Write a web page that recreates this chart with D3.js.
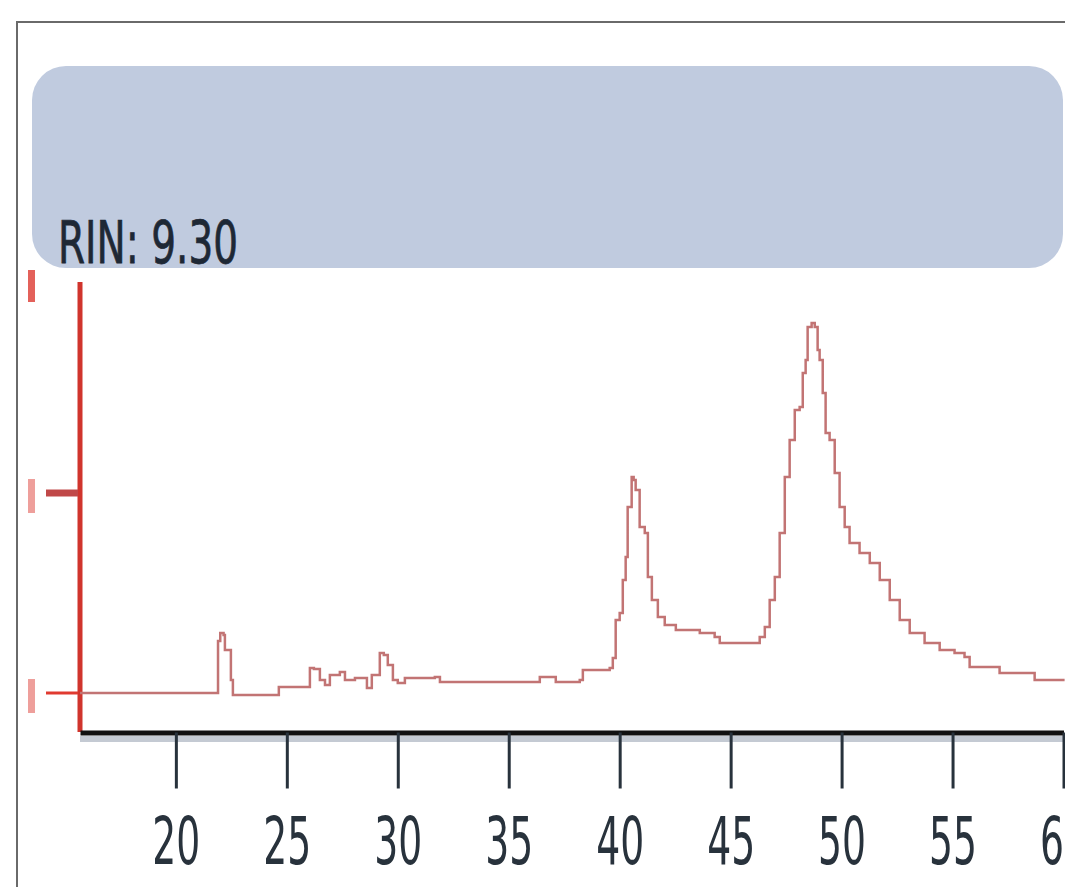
<!DOCTYPE html>
<html>
<head>
<meta charset="utf-8">
<script src="https://cdn.jsdelivr.net/npm/d3@7"></script>
<style>
  body { margin: 0; background: #fff; }
  svg { display: block; }
  .x-axis text { font-family: 'DejaVu Sans', sans-serif; fill: #28323c; }
</style>
</head>
<body>
<svg id="chart"></svg>
<script>
// electropherogram trace: migration time (s) and fluorescence (FU)
const times = [15.68, 21.81, 21.9, 22.0, 22.15, 22.21, 22.48, 22.57, 24.6, 24.64, 25.9, 26.04, 26.22, 26.49, 26.72,
  26.94, 27.39, 27.62, 28.07, 28.61, 28.83, 29.19, 29.37, 29.55, 29.78, 30.0, 30.32, 31.67, 31.9, 36.18,
  36.4, 36.94, 37.12, 38.2, 38.34, 39.55, 39.69, 39.82, 40.0, 40.14, 40.27, 40.36, 40.54, 40.63, 40.72,
  40.9, 41.13, 41.27, 41.45, 41.72, 42.03, 42.53, 43.61, 44.28, 44.51, 45.86, 46.31, 46.54, 46.76, 46.99,
  47.21, 47.44, 47.66, 47.89, 48.11, 48.25, 48.38, 48.47, 48.65, 48.79, 48.92, 49.01, 49.15, 49.28, 49.46,
  49.69, 49.91, 50.14, 50.36, 50.81, 51.27, 51.72, 52.17, 52.62, 53.07, 53.74, 54.42, 55.09, 55.54, 55.77,
  56.9, 57.12, 58.47, 58.7, 60.05];
const fluorescence = [0, 0, 2.6, 3.0, 2.9, 2.15, 0.65, -0.1, -0.1, 0.3, 0.3, 1.25, 1.2, 0.65, 0.4,
  0.9, 1.05, 0.65, 0.75, 0.25, 0.9, 2.0, 1.9, 1.4, 0.65, 0.5, 0.75, 0.8, 0.55, 0.55,
  0.8, 0.8, 0.55, 0.65, 1.15, 1.25, 1.75, 3.65, 4.0, 5.65, 6.8, 9.3, 10.8, 10.65, 10.15,
  8.3, 8.0, 5.8, 4.65, 3.8, 3.4, 3.15, 3.0, 2.8, 2.5, 2.5, 2.8, 3.3, 4.65, 5.8,
  8.0, 10.8, 12.65, 14.15, 14.3, 16.0, 16.65, 18.3, 18.5, 18.3, 17.15, 16.65, 15.0, 13.0, 12.65,
  11.0, 9.3, 8.3, 7.5, 7.0, 6.5, 5.65, 4.65, 3.65, 3.0, 2.5, 2.15, 2.0, 1.8, 1.3,
  1.3, 1.0, 1.0, 0.65, 0.65];
const xTicks = [20, 25, 30, 35, 40, 45, 50, 55, 60];
const yTicks = [0, 10, 20];
const rinLabel = 'RIN: 9.30';

const width = 1065, height = 887;
const svg = d3.select('#chart')
    .attr('width', width)
    .attr('height', height);

// outer frame (right/bottom run off the picture)
svg.append('rect')
    .attr('x', 17).attr('y', 22)
    .attr('width', 1100).attr('height', 900)
    .attr('fill', '#fff')
    .attr('stroke', '#6a6a6a')
    .attr('stroke-width', 2);

// header panel with RIN value
svg.append('rect')
    .attr('x', 32).attr('y', 66)
    .attr('width', 1031).attr('height', 202)
    .attr('rx', 34).attr('ry', 34)
    .attr('fill', '#c0cbdf');

svg.append('text')
    .attr('x', 58).attr('y', 263)
    .attr('font-family', 'DejaVu Sans, sans-serif')
    .attr('font-size', 58)
    .attr('textLength', 180)
    .attr('lengthAdjust', 'spacingAndGlyphs')
    .attr('fill', '#1e2835')
    .attr('stroke', '#1e2835')
    .attr('stroke-width', 0.8)
    .text(rinLabel);

const xScale = d3.scaleLinear().domain([15.68, 60]).range([80, 1063.5]);
const yScale = d3.scaleLinear().domain([0, 20]).range([693, 293]);

const data = times.map((t, i) => ({t, v: fluorescence[i]}));

// y axis (red)
svg.append('line')
    .attr('x1', 80).attr('x2', 80)
    .attr('y1', 282).attr('y2', 732)
    .attr('stroke', '#d0342c')
    .attr('stroke-width', 5);

svg.selectAll('.y-tick')
    .data(yTicks.filter(d => d < 20))
    .join('line')
    .attr('class', 'y-tick')
    .attr('x1', 46).attr('x2', 78)
    .attr('y1', d => yScale(d)).attr('y2', d => yScale(d))
    .attr('stroke', d => d === 0 ? '#e03a30' : '#c04848')
    .attr('stroke-width', d => d === 0 ? 3 : 7);

// blurred tick labels
svg.selectAll('.y-label')
    .data(yTicks)
    .join('rect')
    .attr('class', 'y-label')
    .attr('x', 28)
    .attr('y', d => yScale(d) - (d === 20 ? 23 : 14))
    .attr('width', 7)
    .attr('height', d => d === 20 ? 32 : 34)
    .attr('fill', '#e05048')
    .attr('opacity', d => d === 20 ? 0.9 : 0.55);

// trace (stepped, like the instrument's pixel rendering)
const line = d3.line()
    .curve(d3.curveStepAfter)
    .x(d => xScale(d.t))
    .y(d => yScale(d.v));

svg.append('path')
    .datum(data)
    .attr('d', line)
    .attr('fill', 'none')
    .attr('stroke', '#c27474')
    .attr('stroke-width', 2.5);

// x axis
const xAxis = d3.axisBottom(xScale)
    .tickValues(xTicks)
    .tickSize(56)
    .tickSizeOuter(0)
    .tickFormat(d3.format('d'));

svg.append('line')
    .attr('x1', 80).attr('x2', width)
    .attr('y1', 739).attr('y2', 739)
    .attr('stroke', '#c4cad3')
    .attr('stroke-width', 6);

const xAxisG = svg.append('g')
    .attr('class', 'axis x-axis')
    .attr('transform', 'translate(0,732.5)')
    .call(xAxis);

xAxisG.select('.domain')
    .attr('stroke', '#111')
    .attr('stroke-width', 5);

xAxisG.selectAll('.tick line')
    .attr('stroke', '#28323c')
    .attr('stroke-width', 3);

xAxisG.selectAll('.tick text')
    .attr('y', 131)
    .attr('dy', 0)
    .attr('font-size', 66)
    .attr('textLength', 48)
    .attr('lengthAdjust', 'spacingAndGlyphs');
</script>
</body>
</html>
